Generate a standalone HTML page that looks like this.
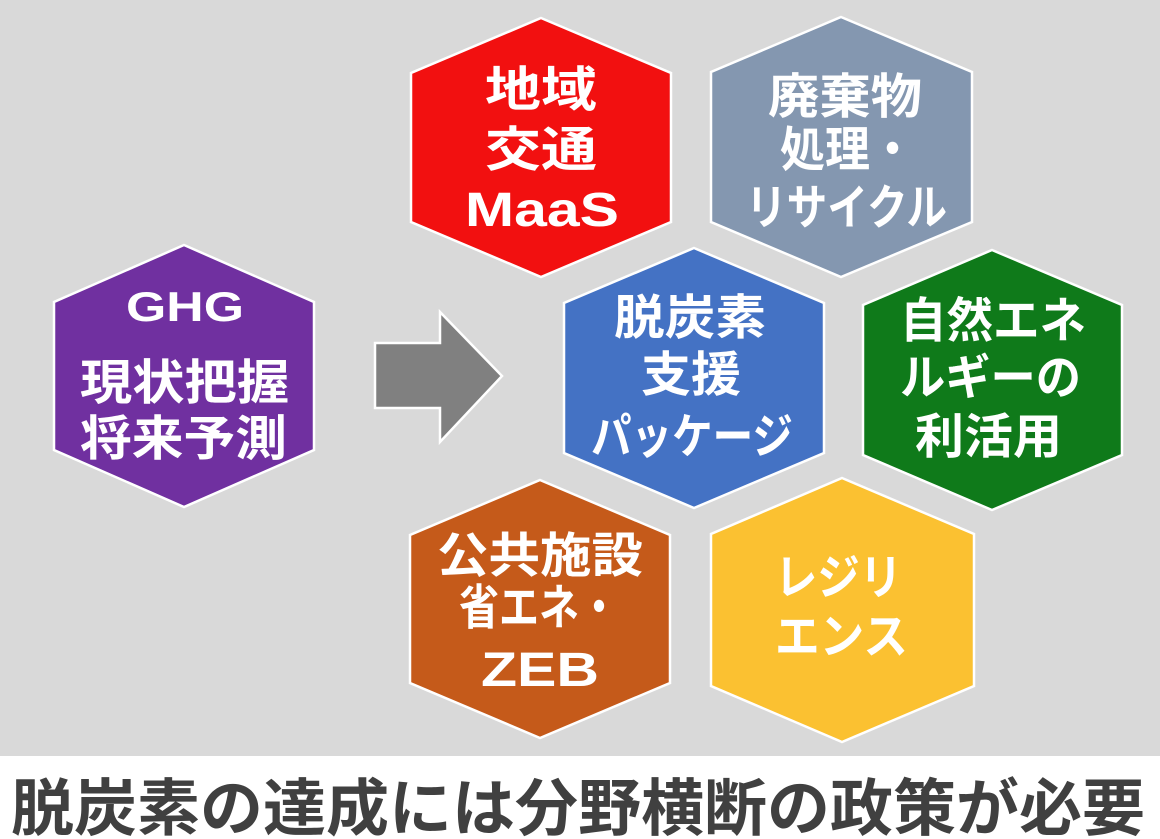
<!DOCTYPE html>
<html><head><meta charset="utf-8"><style>
html,body{margin:0;padding:0;background:#fff}
svg{display:block}
text{font-family:"Liberation Sans","Noto Sans CJK JP",sans-serif;font-weight:bold;fill:#fff}
</style></head><body>
<svg width="1160" height="839" viewBox="0 0 1160 839" xmlns="http://www.w3.org/2000/svg">
<rect x="0" y="0" width="1160" height="756" fill="#d9d9d9"/>
<rect x="0" y="756" width="1160" height="83" fill="#ffffff"/>
<g stroke="#fff" stroke-width="2.5">
<polygon fill="#7030a0" points="184,245 314,302 314,450 184,507 54,450 54,302"/>
<polygon fill="#f21010" points="541,18 671,73 671,222 541,277 411,222 411,73"/>
<polygon fill="#8497b0" points="841,17 972,72 972,222 841,277 711,222 711,72"/>
<polygon fill="#4472c4" points="694,248 824,303 824,453 694,508 564,453 564,303"/>
<polygon fill="#0f7a1a" points="992,250 1122,305 1122,455 992,510 863,455 863,305"/>
<polygon fill="#c55a1a" points="540,480 670,535 670,683 540,738 410,683 410,535"/>
<polygon fill="#fbc131" points="842,478 974,534 974,686 842,742 711,686 711,534"/>
<polygon fill="#808080" points="375,343 440,343 440,312 502,376 440,442 440,408 375,408"/>
</g>
<g font-size="48">
<text x="126" y="321" textLength="118" lengthAdjust="spacingAndGlyphs" font-size="42">GHG</text>
<text x="80" y="399" textLength="209" lengthAdjust="spacingAndGlyphs">現状把握</text>
<text x="80" y="455" textLength="207" lengthAdjust="spacingAndGlyphs">将来予測</text>

<text x="485" y="106" textLength="112" lengthAdjust="spacingAndGlyphs">地域</text>
<text x="485" y="166" textLength="112" lengthAdjust="spacingAndGlyphs">交通</text>
<text x="465" y="226" textLength="154" lengthAdjust="spacingAndGlyphs">MaaS</text>

<text x="768" y="113" textLength="154" lengthAdjust="spacingAndGlyphs">廃棄物</text>
<text x="780" y="166" textLength="135" lengthAdjust="spacingAndGlyphs">処理・</text>
<text x="746" y="224" textLength="201" lengthAdjust="spacingAndGlyphs">リサイクル</text>

<text x="614" y="334" textLength="152" lengthAdjust="spacingAndGlyphs">脱炭素</text>
<text x="641" y="391" textLength="100" lengthAdjust="spacingAndGlyphs">支援</text>
<text x="591" y="453" textLength="202" lengthAdjust="spacingAndGlyphs">パッケージ</text>

<text x="900" y="337" textLength="186" lengthAdjust="spacingAndGlyphs">自然エネ</text>
<text x="900" y="394" textLength="181" lengthAdjust="spacingAndGlyphs">ルギーの</text>
<text x="915" y="453" textLength="147" lengthAdjust="spacingAndGlyphs">利活用</text>

<text x="437" y="572" textLength="206" lengthAdjust="spacingAndGlyphs">公共施設</text>
<text x="459" y="624" textLength="160" lengthAdjust="spacingAndGlyphs">省エネ・</text>
<text x="481" y="686" textLength="118" lengthAdjust="spacingAndGlyphs">ZEB</text>

<text x="775" y="594" textLength="127" lengthAdjust="spacingAndGlyphs">レジリ</text>
<text x="775" y="653" textLength="133" lengthAdjust="spacingAndGlyphs">エンス</text>
</g>
<text x="11" y="830" font-size="62" style="fill:#404040" textLength="1134" lengthAdjust="spacingAndGlyphs">脱炭素の達成には分野横断の政策が必要</text>
</svg>
</body></html>
